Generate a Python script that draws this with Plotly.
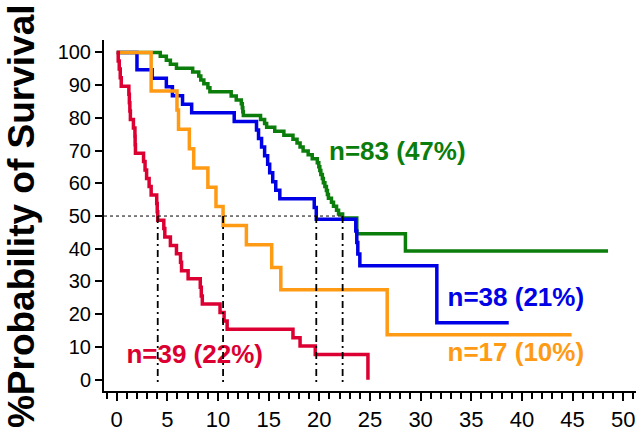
import plotly.graph_objects as go

# Kaplan-Meier step data per group: event times (months) and survival (%)
red_t = [0, 0.15, 0.25, 0.35, 0.45, 1.2, 1.25, 1.3, 1.35, 1.65, 1.8, 1.82, 1.85,
         2.65, 2.8, 2.95, 3.2, 3.4, 3.95, 4.0, 4.05, 4.65, 4.75, 5.3, 5.9,
         6.3, 6.4, 7.05, 8.25, 8.35, 8.45, 10.2, 10.6, 10.9, 17.4, 18.1, 19.6, 24.8]
red_s = [100, 97.4, 94.9, 92.3, 89.7, 87.2, 84.6, 82.1, 79.5, 76.9, 74.4, 71.8, 69.2,
         66.7, 64.1, 61.5, 59.0, 56.4, 53.8, 51.3, 48.7, 46.2, 43.6, 41.0, 38.5,
         35.9, 33.3, 30.8, 28.2, 25.6, 23.1, 20.5, 17.9, 15.4, 12.8, 10.3, 7.7, 0]

orange_t = [0, 3.4, 5.95, 6.1, 7.17, 7.6, 9.0, 9.8, 10.5, 12.8, 15.3, 16.2, 26.7, 44.9]
orange_s = [100, 88.2, 82.4, 76.5, 70.6, 64.7, 58.8, 52.9, 47.1, 41.2, 34.3, 27.5, 13.7, 13.7]

blue_t = [0, 2.0, 3.5, 4.9, 5.5, 6.5, 7.4, 11.6, 13.8, 14.0, 14.3, 14.6, 14.9, 15.1,
          15.4, 15.7, 16.1, 19.5, 19.7, 23.6, 23.7, 23.8, 24.0, 31.6, 38.7]
blue_s = [100, 94.7, 92.1, 89.5, 86.8, 84.2, 81.6, 78.9, 76.3, 73.7, 71.1, 68.4, 65.8, 63.2,
          60.5, 57.9, 55.3, 52.6, 49.0, 45.4, 41.9, 38.4, 34.8, 17.4, 17.4]

green_t = [0, 4.3, 4.9, 5.3, 5.9, 7.5, 8.1, 8.3, 8.6, 9.0, 9.2, 11.3, 11.8, 12.3, 12.4,
           12.45, 12.5, 14.2, 14.6, 14.8, 15.6, 16.5, 17.4, 17.8, 18.1, 18.4, 18.9, 19.3,
           19.8, 19.95, 20.05, 20.15, 20.3, 20.4, 20.55, 20.7, 20.8, 20.9, 21.2, 21.4,
           21.7, 21.9, 22.3, 23.7, 28.5, 48.5]
green_s = [100, 98.8, 97.6, 96.4, 95.2, 94.0, 92.8, 91.6, 90.4, 89.2, 88.0, 86.7, 85.5, 84.3, 83.1,
           81.9, 80.7, 79.5, 78.3, 77.1, 75.9, 74.7, 73.5, 72.3, 71.1, 69.9, 68.7, 67.5,
           66.3, 65.1, 63.9, 62.7, 61.5, 60.2, 59.0, 57.8, 56.6, 55.4, 54.2, 53.0,
           51.8, 50.6, 49.4, 44.6, 39.3, 39.3]

group_n = [83, 38, 17, 39]
group_colors = ["#0b7d0b", "#0000e6", "#ff9a14", "#dc0032"]
label_t = [27.7, 39.4, 39.4, 7.7]
label_s = [69.0, 24.6, 7.7, 7.0]

curves = [(green_t, green_s), (blue_t, blue_s), (orange_t, orange_s), (red_t, red_s)]

X0, X1 = -1.254, 51.26
Y0, Y1 = -3.47, 103.8
FONT = "Liberation Sans, Arial, sans-serif"

fig = go.Figure()

# group labels: n and share of all patients
total = sum(group_n)
for n, c, tx, sy in zip(group_n, group_colors, label_t, label_s):
    fig.add_trace(go.Scatter(
        x=[tx], y=[sy], mode="text",
        text=[f"<b>n={n} ({round(100 * n / total)}%)</b>"],
        textposition="middle center",
        textfont=dict(family=FONT, size=26, color=c),
        showlegend=False, hoverinfo="skip"))

# survival curves
for (t, s), c in zip(curves, group_colors):
    fig.add_trace(go.Scatter(
        x=t, y=s, mode="lines", line=dict(color=c, width=3.5, shape="hv"),
        showlegend=False))

# median survival markers
medians = []
for t, s in curves:
    medians.append(next(ti for ti, si in zip(t, s) if si <= 50))

fig.add_trace(go.Scatter(
    x=[X0, max(medians)], y=[50, 50], mode="lines",
    line=dict(color="black", width=1, dash="3px,3px"),
    showlegend=False, hoverinfo="skip"))
for m in medians:
    fig.add_trace(go.Scatter(
        x=[m, m], y=[50, -1.2], mode="lines",
        line=dict(color="black", width=1.8, dash="7px,4px,2px,4px"),
        showlegend=False, hoverinfo="skip"))

fig.add_annotation(
    text="<b>%Probability of Survival</b>", xref="paper", yref="paper",
    x=-0.154, y=0.4986, xanchor="center", yanchor="middle", textangle=-90,
    showarrow=False, font=dict(family=FONT, size=37, color="black"))

fig.update_layout(
    width=641, height=437,
    margin=dict(l=104, r=5, t=40, b=42),
    paper_bgcolor="white", plot_bgcolor="white",
    xaxis=dict(
        range=[X0, X1], showline=True, linewidth=2, linecolor="black",
        ticks="outside", ticklen=8, tickwidth=1.5, tickcolor="black",
        tick0=0, dtick=5, showgrid=False, zeroline=False,
        tickfont=dict(family=FONT, size=22, color="black"),
        minor=dict(dtick=1, tick0=0, ticks="outside", ticklen=6, tickwidth=1.5,
                   tickcolor="black", showgrid=False)),
    yaxis=dict(
        range=[Y0, Y1], showline=True, linewidth=2, linecolor="black",
        ticks="outside", ticklen=7, tickwidth=1.5, tickcolor="black",
        tickvals=list(range(0, 101, 10)), showgrid=False, zeroline=False,
        tickfont=dict(family=FONT, size=20, color="black")),
)

fig.write_html("out.html")
